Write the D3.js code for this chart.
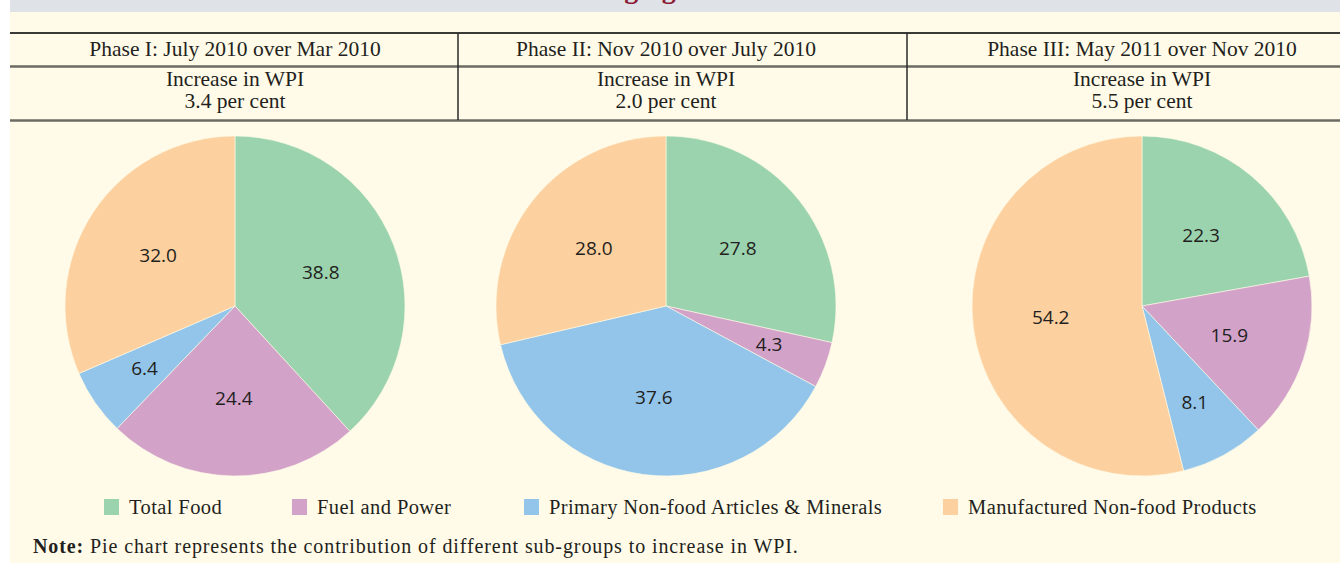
<!DOCTYPE html>
<html>
<head>
<meta charset="utf-8">
<script src="https://cdn.jsdelivr.net/npm/d3@7/dist/d3.min.js"></script>
<style>
  html, body { margin: 0; padding: 0; background: #ffffff; }
  svg { display: block; }
</style>
</head>
<body>
<svg id="chart" width="1340" height="563"></svg>
<script>
// ---- Data ----
const categories = ["Total Food", "Fuel and Power", "Primary Non-food Articles & Minerals", "Manufactured Non-food Products"];
const phaseTitles = ["Phase I: July 2010 over Mar 2010", "Phase II: Nov 2010 over July 2010", "Phase III: May 2011 over Nov 2010"];
const wpiIncrease = ["3.4", "2.0", "5.5"];
const phase1Values = [38.8, 24.4, 6.4, 32.0];
const phase2Values = [27.8, 4.3, 37.6, 28.0];
const phase3Values = [22.3, 15.9, 8.1, 54.2];
const titleText = "Changing Drivers of Inflation";
const noteLabel = "Note:";
const noteText = " Pie chart represents the contribution of different sub-groups to increase in WPI.";

const colors = ["#9bd3ae", "#d2a2c9", "#92c5e9", "#fdd09f"];
const seriesValues = [phase1Values, phase2Values, phase3Values];

const svg = d3.select("#chart");
const W = 1340, H = 563;
const left = 10;

// backgrounds
svg.append("rect").attr("x", left).attr("y", 0).attr("width", W - left).attr("height", H).attr("fill", "#fffbe8");
svg.append("rect").attr("x", left).attr("y", 0).attr("width", W - left).attr("height", 12).attr("fill", "#dfe3e8");

// clipped title (only descenders visible, as in the reference)
svg.append("text").attr("x", 559).attr("y", -2)
  .attr("font-family", "Liberation Serif").attr("font-weight", "bold")
  .attr("font-size", 28).attr("fill", "#8b1a35").text(titleText);

// table
const colBounds = [left, 458, 907, W];
const pieCx = [235, 666, 1142];
const pieCy = 306, R = 170;

svg.append("line").attr("x1", left).attr("x2", W).attr("y1", 33).attr("y2", 33).attr("stroke", "#3a3a36").attr("stroke-width", 2);
svg.append("line").attr("x1", left).attr("x2", W).attr("y1", 66.5).attr("y2", 66.5).attr("stroke", "#6b6b63").attr("stroke-width", 2.5);
svg.append("line").attr("x1", left).attr("x2", W).attr("y1", 120.5).attr("y2", 120.5).attr("stroke", "#6b6b63").attr("stroke-width", 2.5);
[colBounds[1], colBounds[2]].forEach(x => {
  svg.append("line").attr("x1", x).attr("x2", x).attr("y1", 33).attr("y2", 120).attr("stroke", "#2a2a28").attr("stroke-width", 1.5);
});

const headFont = "Liberation Serif";
phaseTitles.forEach((t, i) => {
  svg.append("text").attr("x", pieCx[i]).attr("y", 56).attr("text-anchor", "middle")
    .attr("font-family", headFont).attr("font-size", 21.5).attr("fill", "#231f20").text(t);
  svg.append("text").attr("x", pieCx[i]).attr("y", 86).attr("text-anchor", "middle")
    .attr("font-family", headFont).attr("font-size", 21.5).attr("fill", "#231f20").text("Increase in WPI");
  svg.append("text").attr("x", pieCx[i]).attr("y", 108).attr("text-anchor", "middle")
    .attr("font-family", headFont).attr("font-size", 21.5).attr("fill", "#231f20").text(wpiIncrease[i] + " per cent");
});

// pies
const pie = d3.pie().sort(null).value(d => d);
const arc = d3.arc().innerRadius(0).outerRadius(R);
seriesValues.forEach((vals, i) => {
  const g = svg.append("g").attr("transform", `translate(${pieCx[i]},${pieCy})`);
  const arcs = pie(vals);
  const total = d3.sum(vals);
  g.selectAll("path").data(arcs).enter().append("path")
    .attr("d", arc).attr("fill", (d, j) => colors[j])
    .attr("stroke", "#fffbe8").attr("stroke-width", 0.6);
  g.selectAll("text").data(arcs).enter().append("text")
    .attr("transform", d => {
      const lr = (d.value / total < 0.1) ? 110 : 92;
      const a = (d.startAngle + d.endAngle) / 2;
      return `translate(${lr * Math.sin(a)},${-lr * Math.cos(a)})`;
    })
    .attr("text-anchor", "middle").attr("dy", "0.35em")
    .attr("font-family", "Open Sans").attr("font-size", 19).attr("fill", "#231f20")
    .text(d => d.value.toFixed(1));
});

// legend
const legendX = [104, 292, 524, 943];
const lg = svg.append("g");
categories.forEach((c, i) => {
  lg.append("rect").attr("x", legendX[i]).attr("y", 499).attr("width", 15).attr("height", 16).attr("fill", colors[i]);
  lg.append("text").attr("x", legendX[i] + 25).attr("y", 514)
    .attr("font-family", "Liberation Serif").attr("font-size", 20.5).attr("letter-spacing", 0.4)
    .attr("fill", "#231f20").text(c);
});

// note
const nt = svg.append("text").attr("x", 33).attr("y", 553)
  .attr("font-family", "Liberation Serif").attr("font-size", 20).attr("letter-spacing", 0.9)
  .attr("fill", "#231f20");
nt.append("tspan").attr("font-weight", "bold").text(noteLabel);
nt.append("tspan").text(noteText);
</script>
</body>
</html>
